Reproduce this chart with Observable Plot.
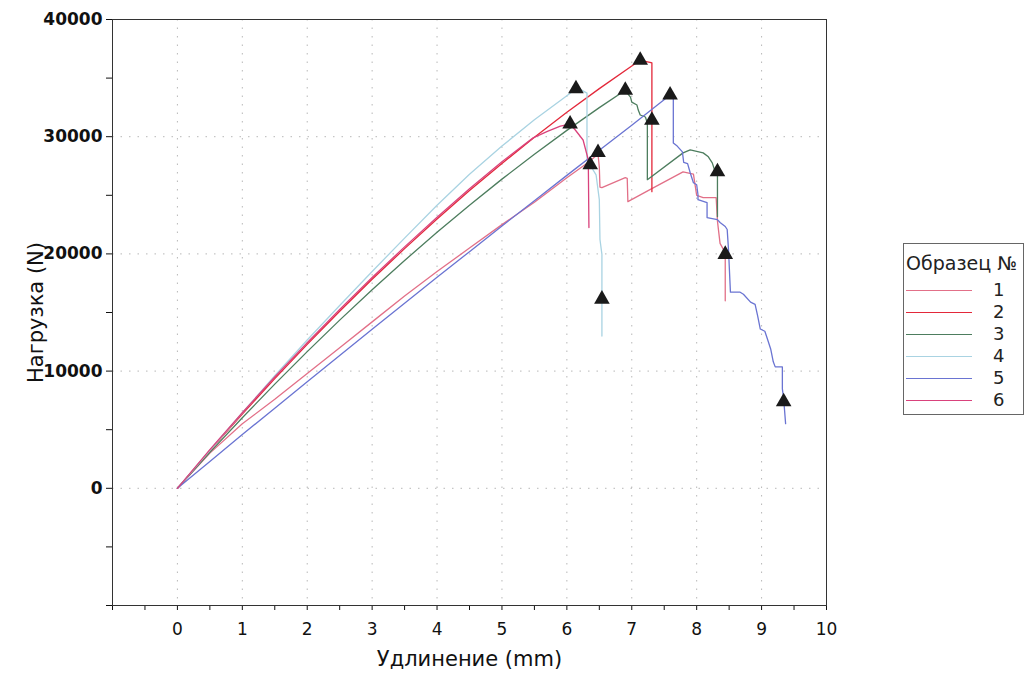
<!DOCTYPE html>
<html>
<head>
<meta charset="utf-8">
<script src="https://cdn.jsdelivr.net/npm/d3@7"></script>
<script src="https://cdn.jsdelivr.net/npm/@observablehq/plot@0.6"></script>
<style>
  html, body { margin: 0; padding: 0; background: #fff; }
  #wrap { position: relative; width: 1026px; height: 681px; font-family: "DejaVu Sans", sans-serif; }
  #legend { position: absolute; left: 903px; top: 243px; width: 121px; height: 172px; border: 1px solid #666; background: #fff; box-sizing: border-box; }
  #legend .title { position: absolute; left: 2px; top: 8px; font-size: 19px; color: #222; white-space: nowrap; }
  #legend .row { position: absolute; left: 0; width: 120px; height: 20px; }
  #legend .swatch { position: absolute; left: 2px; top: 10px; width: 66px; height: 0; border-top: 1.3px solid; }
  #legend .num { position: absolute; left: 89px; top: -1px; font-size: 18px; color: #222; }
</style>
</head>
<body>
<div id="wrap"><div id="chart"></div><div id="legend"></div></div>
<script>
// Series names and colours (legend "Образец №")
const seriesNames = ["1", "2", "3", "4", "5", "6"];
const seriesColors = ["#e27088", "#e3283a", "#4d7d5e", "#a9d3e2", "#6a74d2", "#d9427c"];

// Sample 1 (lower pink) [elongation mm, load N]
const s1 = [[0,0],[0.5,3000],[1,5500],[1.5,7600],[2,9800],[2.5,12000],[3,14200],[3.5,16400],[4,18500],[4.5,20500],[5,22500],[5.5,24400],[6,26500],[6.3,27700],[6.48,28500],[6.5,27400],[6.51,25700],[6.54,25650],[6.9,26500],[6.93,26450],[6.94,24460],[7.28,25480],[7.79,27000],[7.95,26800],[8.0,25000],[8.1,24800],[8.3,24800],[8.32,22800],[8.36,20900],[8.42,20300],[8.44,19900],[8.44,16000]];
// Sample 2 (red, highest)
const s2 = [[0,0],[0.5,3220],[1,6340],[1.5,9360],[2,12280],[2.5,15100],[3,17830],[3.5,20450],[4,22980],[4.5,25400],[5,27720],[5.5,29950],[6,32080],[6.5,34100],[7,36030],[7.13,36520],[7.28,36350],[7.31,36300],[7.31,25310]];
// Sample 3 (green)
const s3 = [[0,0],[0.5,3060],[1,6020],[1.5,8890],[2,11660],[2.5,14350],[3,16940],[3.5,19440],[4,21840],[4.5,24150],[5,26380],[5.5,28500],[6,30540],[6.5,32480],[6.9,33970],[6.93,33720],[6.98,33380],[7.0,32950],[7.08,32700],[7.1,32270],[7.13,31850],[7.21,31680],[7.24,31170],[7.24,26330],[7.79,28620],[7.9,28870],[8.1,28620],[8.18,28280],[8.24,27770],[8.29,26920],[8.32,26750],[8.32,23180]];
// Sample 4 (light blue, steepest)
const s4 = [[0,0],[0.5,3250],[1,6450],[1.5,9600],[2,12650],[2.5,15600],[3,18500],[3.5,21350],[4,24150],[4.5,26800],[5,29200],[5.5,31450],[6,33500],[6.14,34100],[6.22,34000],[6.31,33720],[6.31,28030],[6.45,26750],[6.5,24630],[6.51,21230],[6.54,19960],[6.54,12990]];
// Sample 5 (blue, lowest slope, longest)
const s5 = [[0,0],[0.5,2290],[1,4580],[1.5,6840],[2,9100],[2.5,11340],[3,13580],[3.5,15790],[4,18000],[4.5,20190],[5,22380],[5.5,24540],[6,26700],[6.5,28840],[7,30980],[7.59,33550],[7.62,33400],[7.64,33200],[7.64,29470],[7.7,29200],[7.78,28700],[7.8,27800],[7.86,27700],[7.9,26920],[7.95,26070],[8.0,25900],[8.02,25050],[8.02,24630],[8.16,24370],[8.16,23100],[8.32,22930],[8.36,22680],[8.44,22340],[8.47,22080],[8.49,20380],[8.52,16730],[8.67,16730],[8.72,16560],[8.83,15880],[8.9,15700],[8.94,14690],[8.98,13590],[9.05,13400],[9.09,12740],[9.14,11890],[9.18,10790],[9.21,10360],[9.32,10360],[9.32,8490],[9.34,7640],[9.37,5520]];
// Sample 6 (pink, follows red then breaks early)
const s6 = [[0,0],[0.5,3300],[1,6450],[1.5,9500],[2,12420],[2.5,15250],[3,17980],[3.5,20600],[4,23130],[4.5,25550],[5,27870],[5.48,29900],[5.7,30450],[5.9,30900],[6.05,31080],[6.13,30570],[6.25,29720],[6.33,28030],[6.34,22250]];

// Triangle markers (maximum and break points)
const markerX = [7.13, 6.14, 6.9, 7.59, 6.05, 6.48, 7.31, 6.36, 6.54, 8.32, 8.44, 9.34];
const markerY = [36520, 34100, 33970, 33550, 31080, 28650, 31400, 27600, 16140, 27000, 19960, 7390];

// Axis ticks
const xMajor = [0,1,2,3,4,5,6,7,8,9,10];
const xTicks = [-1,-0.5,0,0.5,1,1.5,2,2.5,3,3.5,4,4.5,5,5.5,6,6.5,7,7.5,8,8.5,9,9.5,10];
const yMajor = [0,10000,20000,30000,40000];
const yTicks = [-10000,-5000,0,5000,10000,15000,20000,25000,30000,35000,40000];

const allSeries = [s1, s2, s3, s4, s5, s6];
const rows = allSeries.flatMap((s, i) => s.map(([x, y]) => ({x, y, s: seriesNames[i]})));
const markers = markerX.map((x, i) => ({x, y: markerY[i]}));

const chart = Plot.plot({
  width: 1026,
  height: 681,
  marginLeft: 112,
  marginRight: 200,
  marginTop: 19,
  marginBottom: 76,
  style: {fontFamily: "DejaVu Sans, sans-serif", fontSize: "17px", background: "#fff", color: "#111"},
  x: {domain: [-1, 10]},
  y: {domain: [-10000, 40000]},
  color: {domain: seriesNames, range: seriesColors},
  marks: [
    Plot.gridX(xMajor, {stroke: "#888", strokeOpacity: 0.6, strokeDasharray: "1.5,7"}),
    Plot.gridY(yMajor, {stroke: "#888", strokeOpacity: 0.6, strokeDasharray: "1.5,7"}),
    Plot.axisY(yTicks, {
      tickFormat: d => (d % 10000 === 0 && d >= 0 ? String(d) : ""),
      tickSize: 6, tickPadding: 4, fontSize: 17, fontWeight: "bold", label: null
    }),
    Plot.axisY([], {
      tickSize: 0, fontSize: 21,
      label: "Нагрузка (N)", labelAnchor: "center", labelOffset: 84, labelArrow: "none"
    }),
    Plot.axisX(xTicks, {
      tickFormat: d => (Number.isInteger(d) && d >= 0 ? String(d) : ""),
      tickSize: 5, tickPadding: 12, fontSize: 17, label: null
    }),
    Plot.axisX([], {
      tickSize: 0, fontSize: 21,
      label: "Удлинение (mm)", labelAnchor: "center", labelOffset: 60, labelArrow: "none"
    }),
    Plot.frame({stroke: "#333"}),
    Plot.line(rows, {x: "x", y: "y", z: "s", stroke: "s", strokeWidth: 1.3}),
    Plot.dot(markers, {x: "x", y: "y", symbol: "triangle", r: 5.8, fill: "#1a1a1a", stroke: "none"})
  ]
});
document.getElementById("chart").appendChild(chart);

// Legend
const legend = document.getElementById("legend");
const t = document.createElement("div");
t.className = "title";
t.textContent = "Образец №";
legend.appendChild(t);
seriesNames.forEach((n, i) => {
  const r = document.createElement("div");
  r.className = "row";
  r.style.top = (36 + i * 22) + "px";
  const sw = document.createElement("div");
  sw.className = "swatch";
  sw.style.borderTopColor = seriesColors[i];
  const num = document.createElement("div");
  num.className = "num";
  num.textContent = n;
  r.appendChild(sw);
  r.appendChild(num);
  legend.appendChild(r);
});
</script>
</body>
</html>
